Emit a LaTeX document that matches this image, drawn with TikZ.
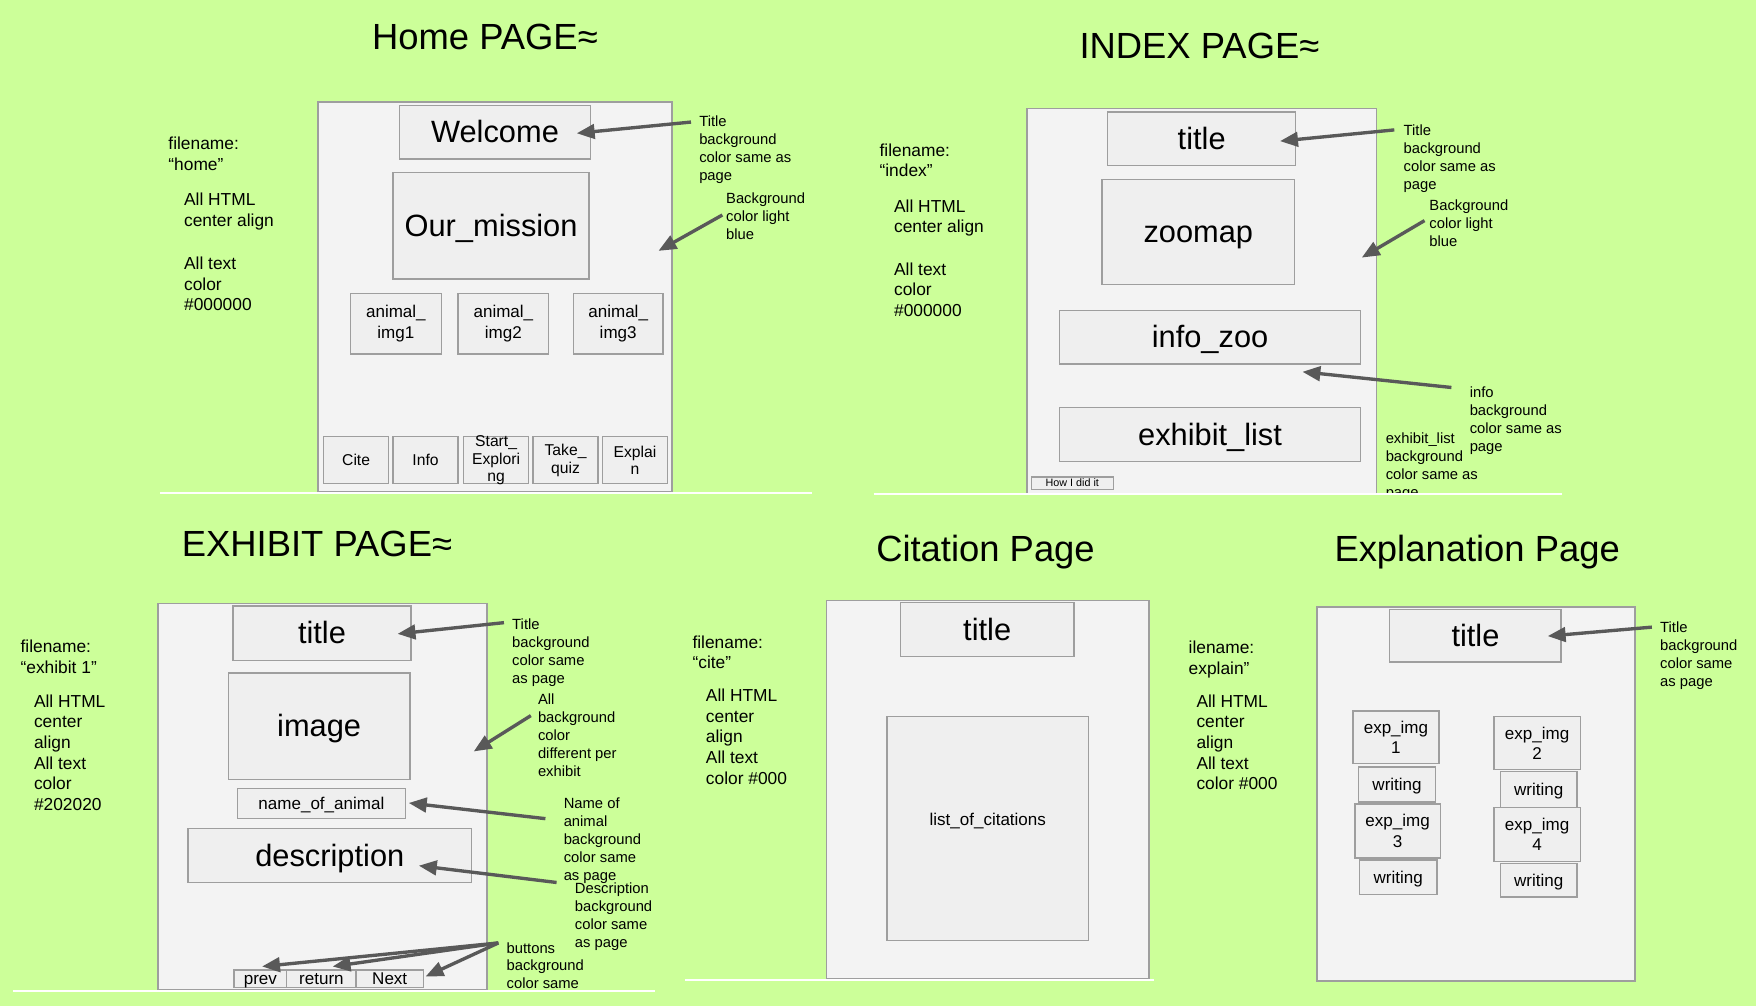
\documentclass[tikz,border=0pt]{standalone}
\usepackage{fontspec}
\setmainfont{Liberation Sans}
\usetikzlibrary{arrows.meta}

\definecolor{bg}{HTML}{CCFF99}
\definecolor{pagefill}{HTML}{F3F3F3}
\definecolor{boxfill}{HTML}{EFEFEF}
\definecolor{edge}{HTML}{9E9E9E}
\definecolor{arrowc}{HTML}{595959}

\newcommand\setfs[2]{\fontsize{#1}{#2}\selectfont}

% \wbox[style]{name}{x1}{y1}{x2}{y2}{text}: a box node spanning the two corners
\newcommand\wbox[7][]{%
  \pgfmathsetmacro\wbcx{(#3+#5)/2}%
  \pgfmathsetmacro\wbcy{(#4+#6)/2}%
  \pgfmathsetmacro\wbw{abs(#5-#3)*0.5}%
  \pgfmathsetmacro\wbh{abs(#6-#4)*0.5}%
  \node[box,#1,minimum width=\wbw pt,minimum height=\wbh pt] (#2) at (\wbcx,\wbcy) {#7};%
}

\begin{document}
\begin{tikzpicture}[x=0.5pt,y=-0.5pt,
  box/.style={draw=edge, fill=boxfill, line width=0.6pt, inner sep=0pt, outer sep=0pt, align=center},
  pagebox/.style={box, fill=pagefill},
  big/.style={text height=12.44pt, text depth=2.92pt, font=\setfs{13.75}{16}},
  mid/.style={font=\setfs{7.6}{9}},
  one/.style={text height=6.88pt, text depth=1.61pt, font=\setfs{7.6}{9}},
  flat/.style={text height=6.5pt, text depth=1.4pt, font=\setfs{7.6}{9}},
  btn/.style={font=\setfs{7}{7.75}},
  btnone/.style={text height=6.34pt, text depth=1.48pt, font=\setfs{7}{7.75}},
  tiny/.style={text height=4.3pt, text depth=1pt, font=\setfs{4.8}{5.5}},
  heading/.style={text height=14.7pt, text depth=3.45pt, font=\setfs{16.25}{19}},
  note/.style={anchor=north west, inner sep=0pt, align=left, font=\setfs{6.6}{8}},
  side/.style={anchor=north west, inner sep=0pt, align=left, font=\setfs{7.75}{9.2}},
  arr/.style={draw=arrowc, line width=1.5pt, -{Triangle[length=8pt,width=6.5pt]}},
  sep/.style={draw=white, line width=0.8pt}]

% canvas
\fill[bg] (0,0) rectangle (1568,898);
\useasboundingbox (0,0) rectangle (1568,898);

%% ---------------- Home page ----------------
\node[heading] (hhead) at (433,33) {Home PAGE≈};
\wbox[pagebox]{hpage}{284}{91}{600}{439}{}
\wbox[big]{hwelcome}{357}{94}{527}{142}{Welcome}
\wbox[big]{hmission}{351}{154}{526}{249}{Our\_mission}
\wbox[mid]{himg1}{313}{262}{394}{316}{animal\_\\img1}
\wbox[mid]{himg2}{409}{262}{490}{316}{animal\_\\img2}
\wbox[mid]{himg3}{512}{262}{592}{316}{animal\_\\img3}
\wbox[btnone]{hcite}{289}{390}{347}{432}{Cite}
\wbox[btnone]{hinfo}{351}{390}{409}{432}{Info}
\wbox{hstart}{414}{390}{472}{432}{}
\node[btn, align=center, inner sep=0pt] (hstartT) at (hstart) {Start\_\\Explori\\ng};
\wbox[btn]{hquiz}{476}{390}{534}{432}{Take\_\\quiz}
\wbox[btn]{hexplain}{538}{390}{596}{432}{Explai\\n}

\node[note] (hn1) at (624,103) {Title\\background\\color same as\\page};
\node[note] (hn2) at (648,172) {Background\\color light\\blue};
\coordinate (ha1s) at (617,109); \coordinate (ha1e) at (515,119);
\coordinate (ha2s) at (645,192); \coordinate (ha2e) at (588,224);
\draw[arr] (ha1s) -- (ha1e);
\draw[arr] (ha2s) -- (ha2e);

\node[side] (hs1) at (150,122) {filename:\\“home”};
\node[side] (hs2) at (164,172) {All HTML\\center align};
\node[side] (hs3) at (164,229) {All text\\color\\\#000000};
\draw[sep] (143,440) -- (725,440);

%% ---------------- Index page ----------------
\node[heading] (ihead) at (1071,41) {INDEX PAGE≈};
\wbox[pagebox]{ipage}{917}{97}{1229}{441}{}
\wbox[big]{ititle}{989}{100}{1157}{148}{title}
\wbox[big]{izoomap}{984}{160}{1156}{254}{zoomap}
\wbox[big]{iinfo}{946}{277}{1215}{325}{info\_zoo}
\wbox[big]{ilist}{946}{364}{1215}{412}{exhibit\_list}
\wbox[tiny]{ihow}{921}{426}{994}{437}{How I did it}

\node[note] (in1) at (1253,111) {Title\\background\\color same as\\page};
\node[note] (in2) at (1276,178) {Background\\color light\\blue};
\node[note] (in3) at (1312,345) {info\\background\\color same as\\page};
\begin{scope}
  \clip (1230,380) rectangle (1320,441);
  \node[note] (in4) at (1237,386) {exhibit\_list\\background\\color same as\\page};
\end{scope}
\coordinate (ia1s) at (1245,116); \coordinate (ia1e) at (1143,126);
\coordinate (ia2s) at (1272,197); \coordinate (ia2e) at (1216,230);
\coordinate (ia3s) at (1296,346); \coordinate (ia3e) at (1163,332);
\draw[arr] (ia1s) -- (ia1e);
\draw[arr] (ia2s) -- (ia2e);
\draw[arr] (ia3s) -- (ia3e);

\node[side] (is1) at (785,128) {filename:\\“index”};
\node[side] (is2) at (798,178) {All HTML\\center align};
\node[side] (is3) at (798,234) {All text\\color\\\#000000};
\draw[sep] (780,441) -- (1395,441);

%% ---------------- Exhibit page ----------------
\node[heading] (ehead) at (283,486) {EXHIBIT PAGE≈};
\wbox[pagebox]{epage}{141}{539}{435}{884}{}
\wbox[big]{etitle}{208}{541}{367}{590}{title}
\wbox[big]{eimage}{204}{601}{366}{696}{image}
\wbox[one]{ename}{212}{704}{362}{731}{name\_of\_animal}
\wbox[big]{edesc}{168}{740}{421}{788}{description}
\wbox[flat]{eprev}{209}{866}{256}{882}{prev}
\wbox[flat]{ereturn}{256}{866}{318}{882}{return}
\wbox[flat]{enext}{318}{866}{378}{882}{Next}

\node[note] (en1) at (457,552) {Title\\background\\color same\\as page};
\node[note] (en2) at (480,619) {All\\background\\color\\different per\\exhibit};
\node[note] (en3) at (503,712) {Name of\\animal\\background\\color same\\as page};
\node[note] (en4) at (513,788) {Description\\background\\color same\\as page};
\node[note] (en5) at (452,841) {buttons\\background\\color same};
\coordinate (ea1s) at (450,556); \coordinate (ea1e) at (355,566);
\coordinate (ea2s) at (474,639); \coordinate (ea2e) at (423,671);
\coordinate (ea3s) at (487,731); \coordinate (ea3e) at (365,717);
\coordinate (ea4s) at (497,788); \coordinate (ea4e) at (374,773);
\coordinate (ea5s) at (445,842);
\coordinate (ea5p) at (234,863); \coordinate (ea5r) at (297,863); \coordinate (ea5n) at (380,872);
\draw[arr] (ea1s) -- (ea1e);
\draw[arr] (ea2s) -- (ea2e);
\draw[arr] (ea3s) -- (ea3e);
\draw[arr] (ea4s) -- (ea4e);
\draw[arr] (ea5s) -- (ea5p);
\draw[arr] (ea5s) -- (ea5r);
\draw[arr] (ea5s) -- (ea5n);

\node[side] (es1) at (18,571) {filename:\\“exhibit 1”};
\node[side] (es2) at (30,620) {All HTML\\center\\align\\All text\\color\\\#202020};
\draw[sep] (12,885) -- (585,885);

%% ---------------- Citation page ----------------
\node[heading] (chead) at (880,490) {Citation Page};
\wbox[pagebox]{cpage}{738}{536}{1026}{874}{}
\wbox[big]{ctitle}{804}{538}{959}{586}{title}
\wbox{clist}{792}{640}{972}{840}{}
\node[one, inner sep=0pt] (clistT) at (882,732) {list\_of\_citations};

\node[side] (cs1) at (618,567) {filename:\\“cite”};
\node[side] (cs2) at (630,615) {All HTML\\center\\align\\All text\\color \#000};
\draw[sep] (612,875) -- (1030,875);

%% ---------------- Explanation page ----------------
\node[heading] (xhead) at (1319,490) {Explanation Page};
\wbox[pagebox]{xpage}{1176}{542}{1460}{876}{}
\wbox[big]{xtitle}{1241}{544}{1394}{591}{title}
\wbox[mid]{ximg1}{1208}{635}{1285}{682}{exp\_img\\1}
\wbox[one]{xw1}{1213}{685}{1282}{716}{writing}
\wbox[mid]{ximg3}{1210}{718}{1286}{766}{exp\_img\\3}
\wbox[one]{xw3}{1214}{768}{1283}{799}{writing}
\wbox[mid]{ximg2}{1334}{640}{1411}{687}{exp\_img\\2}
\wbox[one]{xw2}{1340}{689}{1408}{721}{writing}
\wbox[mid]{ximg4}{1334}{721}{1411}{769}{exp\_img\\4}
\wbox[one]{xw4}{1340}{771}{1408}{801}{writing}

\node[note] (xn1) at (1482,555) {Title\\background\\color same\\as page};
\coordinate (xa1s) at (1475,560); \coordinate (xa1e) at (1382,568);
\draw[arr] (xa1s) -- (xa1e);

\node[side] (xs1) at (1061,572) {ilename:\\explain”};
\node[side] (xs2) at (1068,620) {All HTML\\center\\align\\All text\\color \#000};

\end{tikzpicture}
\end{document}
